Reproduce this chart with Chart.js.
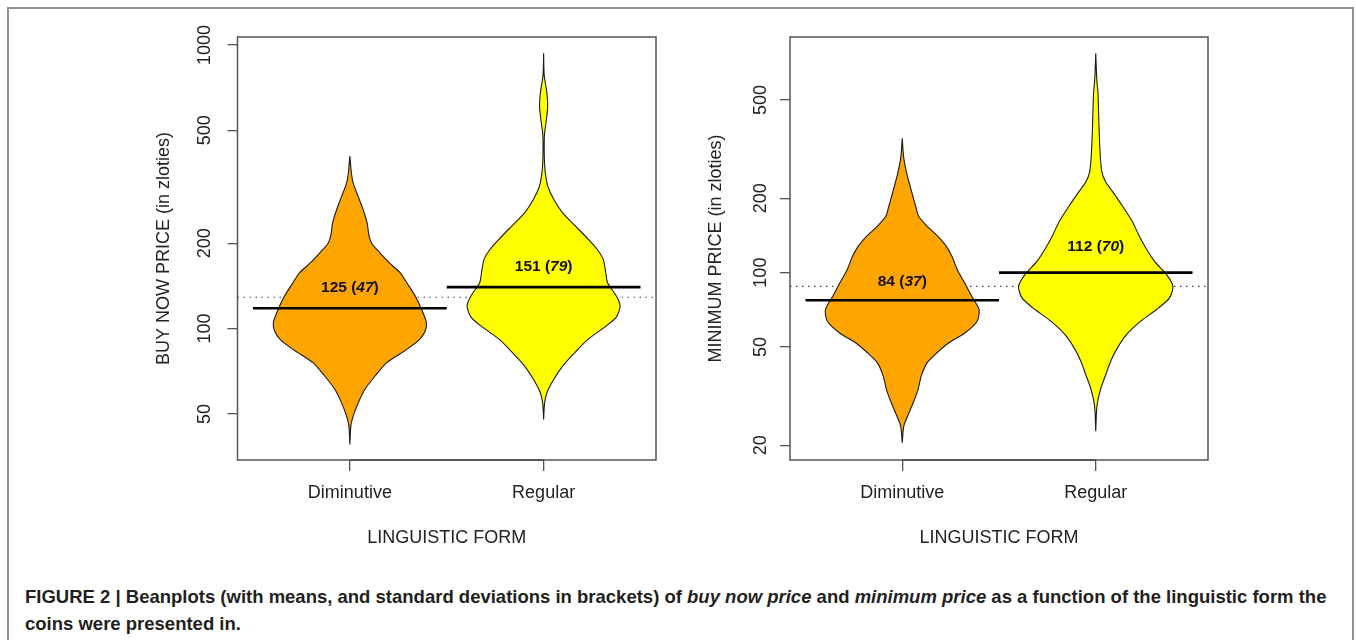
<!DOCTYPE html>
<html>
<head>
<meta charset="utf-8">
<script src="https://cdn.jsdelivr.net/npm/chart.js@4.4.1/dist/chart.umd.min.js"></script>
<style>
  body { margin: 0; width: 1356px; height: 640px; overflow: hidden; position: relative; background: #fff;
         font-family: "Liberation Sans", Arial, sans-serif; }
  #frame { position: absolute; left: 7px; top: 7px; width: 1343px; height: 700px; border: 2px solid #8f8f8f; }
  .panel { position: absolute; top: 20px; }
  #caption { position: absolute; left: 25px; top: 584px; font-size: 18.5px; font-weight: bold; line-height: 26.7px;
             color: #231f20; white-space: nowrap; }
</style>
</head>
<body>
<div id="frame"></div>
<canvas id="buyNowChart" class="panel" width="580" height="540" style="left:100px"></canvas>
<canvas id="minPriceChart" class="panel" width="580" height="540" style="left:652px"></canvas>
<div id="caption">FIGURE 2 | Beanplots (with means, and standard deviations in brackets) of <i>buy now price</i> and <i>minimum price</i> as a function of the linguistic form the<br>coins were presented in.</div>
<script>
// Categories
const groups = ['Diminutive', 'Regular'];
const groupPos = [1, 2];

// Buy now price: bean outlines (price in zloties, half-width in group units)
const buyDimPrice = [406, 353, 326, 292, 262, 236, 214, 200, 185, 170, 157, 145, 130, 117, 105, 97.8, 91.4, 84.3, 75.7, 67.9, 61.0, 54.7, 49.1, 45.3, 39.0];
const buyDimWidth = [0, 0.008, 0.017, 0.043, 0.069, 0.089, 0.098, 0.112, 0.155, 0.206, 0.261, 0.294, 0.338, 0.370, 0.395, 0.388, 0.359, 0.292, 0.189, 0.129, 0.077, 0.043, 0.017, 0.005, 0];
const buyRegPrice = [935, 784, 676, 606, 544, 489, 451, 394, 353, 317, 285, 256, 229, 206, 190, 175, 157, 145, 130, 120, 110, 102, 91.4, 82.1, 73.7, 66.1, 59.4, 54.7, 47.8];
const buyRegWidth = [0, 0.003, 0.017, 0.021, 0.014, 0.005, 0.003, 0.004, 0.009, 0.022, 0.053, 0.098, 0.167, 0.232, 0.277, 0.308, 0.321, 0.330, 0.376, 0.395, 0.376, 0.322, 0.227, 0.160, 0.098, 0.052, 0.017, 0.005, 0];

// Minimum price: bean outlines
const minDimPrice = [350, 295, 253, 216, 185, 169, 154, 140, 128, 116, 103, 90.9, 80.2, 70.9, 63.6, 57.1, 52.0, 47.4, 43.2, 38.1, 33.7, 29.8, 26.3, 23.9, 20.5];
const minDimWidth = [0, 0.007, 0.023, 0.046, 0.070, 0.085, 0.129, 0.186, 0.227, 0.258, 0.284, 0.322, 0.359, 0.397, 0.387, 0.325, 0.241, 0.180, 0.129, 0.098, 0.082, 0.057, 0.028, 0.008, 0];
const minRegPrice = [772, 612, 524, 384, 300, 257, 234, 207, 183, 161, 142, 126, 111, 98.1, 88.0, 79.0, 72.0, 63.6, 56.2, 49.6, 43.8, 38.7, 34.2, 30.2, 27.5, 22.8];
const minRegWidth = [0, 0.005, 0.012, 0.017, 0.023, 0.031, 0.050, 0.098, 0.144, 0.189, 0.222, 0.258, 0.304, 0.366, 0.399, 0.381, 0.325, 0.232, 0.160, 0.112, 0.077, 0.052, 0.027, 0.010, 0.004, 0];

// Means, standard deviations, bean lines and overall line
const buyMeans = [125, 151];
const buySds = [47, 79];
const buyBeanLine = [118, 140];
const buyOverall = 129;
const minMeans = [84, 112];
const minSds = [37, 70];
const minBeanLine = [77.3, 100];
const minOverall = 88;

// Axis ticks
const buyTicks = [50, 100, 200, 500, 1000];
const minTicks = [20, 50, 100, 200, 500];

const beanColors = ['#FFA500', '#FFFF00'];
const axisFont = { family: '"Liberation Sans", Arial, sans-serif', size: 18 };
const axisColor = '#222';
const labelFont = '15.5px "Liberation Sans", Arial, sans-serif';

function beanOutline(center, prices, widths) {
  const pts = [];
  for (let i = 0; i < prices.length; i++) pts.push({ x: center + widths[i], y: prices[i] });
  for (let i = prices.length - 1; i >= 0; i--) pts.push({ x: center - widths[i], y: prices[i] });
  return pts;
}

// Full frame around the plotting region plus the axis line between the ticks
const panelBox = {
  id: 'panelBox',
  afterDatasetsDraw(chart) {
    const { ctx, chartArea: a, scales: { x } } = chart;
    ctx.save();
    ctx.strokeStyle = '#555';
    ctx.lineWidth = 1.5;
    ctx.strokeRect(a.left, a.top, a.right - a.left, a.bottom - a.top);
    ctx.lineWidth = 2.2;
    ctx.beginPath();
    ctx.moveTo(x.getPixelForValue(groupPos[0]), a.bottom);
    ctx.lineTo(x.getPixelForValue(groupPos[groupPos.length - 1]), a.bottom);
    ctx.stroke();
    ctx.restore();
  }
};

// "mean (sd)" labels, sd in italics
const beanLabels = {
  id: 'beanLabels',
  afterDatasetsDraw(chart, args, opts) {
    const { ctx, scales: { x, y } } = chart;
    ctx.save();
    ctx.fillStyle = '#111';
    ctx.textBaseline = 'middle';
    ctx.textAlign = 'left';
    opts.means.forEach((m, i) => {
      const parts = [
        [m + ' (', 'bold ' + labelFont],
        [String(opts.sds[i]), 'italic bold ' + labelFont],
        [')', 'bold ' + labelFont]
      ];
      let total = 0;
      parts.forEach(p => { ctx.font = p[1]; total += ctx.measureText(p[0]).width; });
      let px = x.getPixelForValue(groupPos[i]) - total / 2;
      const py = y.getPixelForValue(opts.at[i]);
      parts.forEach(p => {
        ctx.font = p[1];
        ctx.fillText(p[0], px, py);
        px += ctx.measureText(p[0]).width;
      });
    });
    ctx.restore();
  }
};

function createBeanPanel(canvasId, cfg) {
  const datasets = [];

  datasets.push({
    data: [{ x: 0.42, y: cfg.overall }, { x: 2.58, y: cfg.overall }],
    showLine: true,
    borderColor: '#444',
    borderWidth: 1.1,
    borderDash: [1.5, 4.5],
    pointRadius: 0,
    order: 3
  });

  cfg.beans.forEach((bean, i) => {
    datasets.push({
      data: beanOutline(groupPos[i], bean.price, bean.width),
      showLine: true,
      fill: 'shape',
      backgroundColor: beanColors[i],
      borderColor: '#1a1a1a',
      borderWidth: 1.1,
      tension: 0.25,
      pointRadius: 0,
      order: 2
    });
  });

  cfg.beanLine.forEach((v, i) => {
    datasets.push({
      data: [{ x: groupPos[i] - 0.5, y: v }, { x: groupPos[i] + 0.5, y: v }],
      showLine: true,
      borderColor: '#000',
      borderWidth: 2.6,
      pointRadius: 0,
      order: 1
    });
  });

  return new Chart(document.getElementById(canvasId), {
    type: 'scatter',
    data: { datasets: datasets },
    options: {
      responsive: false,
      animation: false,
      events: [],
      layout: { padding: { left: 0, top: 17, right: 24, bottom: 0 } },
      scales: {
        x: {
          type: 'linear',
          min: 0.42,
          max: 2.58,
          bounds: 'data',
          afterBuildTicks: s => { s.ticks = groupPos.map(v => ({ value: v })); },
          afterFit: s => { s.height = 100; },
          ticks: {
            autoSkip: false,
            maxRotation: 0,
            padding: 11,
            font: axisFont,
            color: axisColor,
            callback: (v, idx) => groups[idx]
          },
          grid: { drawOnChartArea: false, tickLength: 11, color: '#555', lineWidth: 1.3 },
          border: { display: false },
          title: { display: true, text: 'LINGUISTIC FORM', font: axisFont, color: axisColor, padding: { top: 0, bottom: 11 } }
        },
        y: {
          type: 'logarithmic',
          min: cfg.yMin,
          max: cfg.yMax,
          bounds: 'data',
          afterBuildTicks: s => { s.ticks = cfg.ticks.map(v => ({ value: v })); },
          afterFit: s => { s.width = cfg.axisWidth; },
          ticks: {
            autoSkip: false,
            minRotation: 90,
            maxRotation: 90,
            crossAlign: 'center',
            padding: cfg.tickPad,
            font: axisFont,
            color: axisColor,
            callback: v => String(v)
          },
          grid: { drawOnChartArea: false, tickLength: 10, color: '#555', lineWidth: 1.3 },
          border: { display: false },
          title: { display: true, text: cfg.title, font: axisFont, color: axisColor, padding: { top: 53, bottom: 0 } }
        }
      },
      plugins: {
        legend: { display: false },
        tooltip: { enabled: false },
        beanLabels: { means: cfg.means, sds: cfg.sds, at: cfg.labelAt }
      }
    },
    plugins: [panelBox, beanLabels]
  });
}

createBeanPanel('buyNowChart', {
  title: 'BUY NOW PRICE (in zloties)',
  beans: [{ price: buyDimPrice, width: buyDimWidth }, { price: buyRegPrice, width: buyRegWidth }],
  beanLine: buyBeanLine,
  overall: buyOverall,
  means: buyMeans,
  sds: buySds,
  labelAt: [139.5, 165.7],
  ticks: buyTicks,
  yMin: 34.4,
  yMax: 1067,
  axisWidth: 137.5,
  tickPad: 2.2
});

createBeanPanel('minPriceChart', {
  title: 'MINIMUM PRICE (in zloties)',
  beans: [{ price: minDimPrice, width: minDimWidth }, { price: minRegPrice, width: minRegWidth }],
  beanLine: minBeanLine,
  overall: minOverall,
  means: minMeans,
  sds: minSds,
  labelAt: [92, 127.7],
  ticks: minTicks,
  yMin: 17.44,
  yMax: 899,
  axisWidth: 138,
  tickPad: 4.2
});
</script>
</body>
</html>
